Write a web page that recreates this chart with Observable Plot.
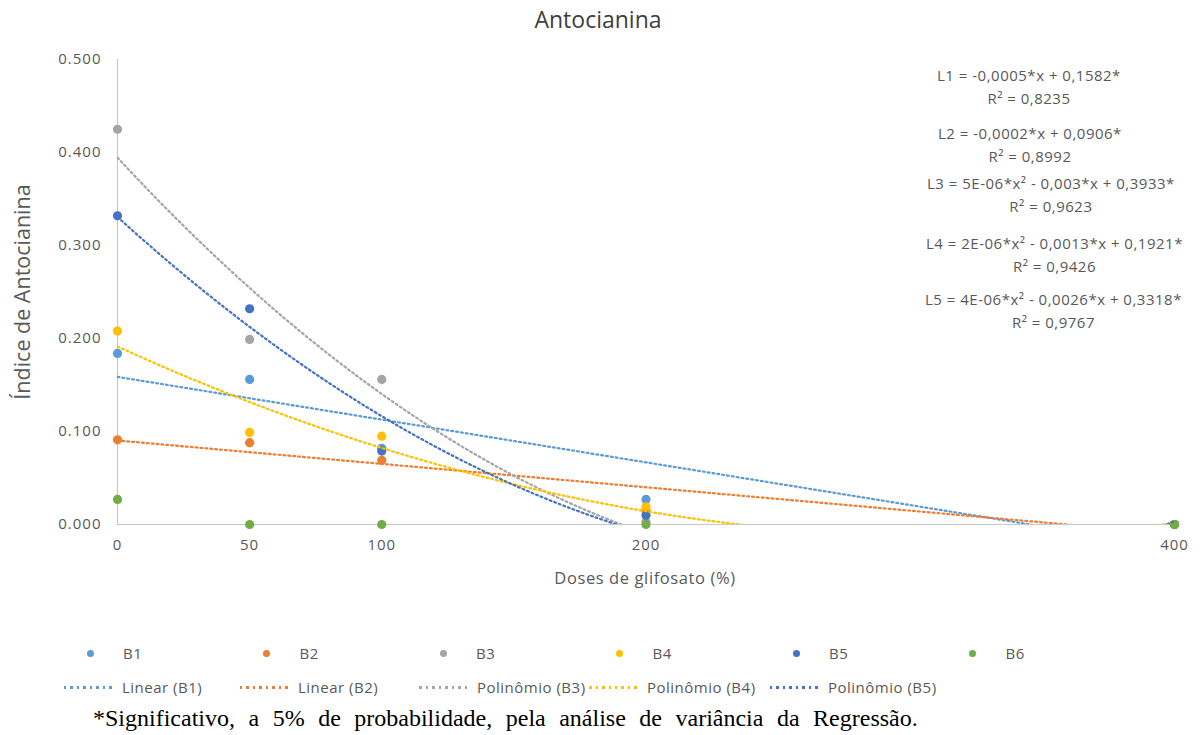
<!DOCTYPE html>
<html><head><meta charset="utf-8">
<script src="https://cdn.jsdelivr.net/npm/d3@7"></script>
<script src="https://cdn.jsdelivr.net/npm/@observablehq/plot@0.6"></script>
<style>
body{margin:0;background:#fff;}
#wrap{position:relative;width:1202px;height:735px;overflow:hidden;font-family:"Open Sans",sans-serif;color:#595959;background:#fff;}
#wrap svg{position:absolute;left:0;top:0;}
#wrap svg g[aria-label$="tick label"] text{letter-spacing:1px;}
.abs{position:absolute;white-space:nowrap;}
</style></head><body><div id="wrap"></div>
<script>
// ---- data ----
const doses = [0, 50, 100, 200, 400];
const seriesNames = ["B1", "B2", "B3", "B4", "B5", "B6"];
const B1 = [0.184, 0.156, 0.082, 0.027, 0.000];
const B2 = [0.091, 0.088, 0.069, 0.015, 0.000];
const B3 = [0.425, 0.199, 0.156, 0.003, 0.000];
const B4 = [0.208, 0.099, 0.095, 0.019, 0.000];
const B5 = [0.332, 0.232, 0.079, 0.010, 0.000];
const B6 = [0.027, 0.000, 0.000, 0.000, 0.000];
const seriesColors = ["#5B9BD5", "#ED7D31", "#A5A5A5", "#FFC000", "#4472C4", "#70AD47"];
const trendNames = ["Linear (B1)", "Linear (B2)", "Polinômio (B3)", "Polinômio (B4)", "Polinômio (B5)"];
const trendDegrees = [1, 1, 2, 2, 2];
const yTicks = [0, 0.1, 0.2, 0.3, 0.4, 0.5];
const equations = [
  ["L1 = -0,0005*x + 0,1582*", "R² = 0,8235"],
  ["L2 = -0,0002*x + 0,0906*", "R² = 0,8992"],
  ["L3 = 5E-06*x² - 0,003*x + 0,3933*", "R² = 0,9623"],
  ["L4 = 2E-06*x² - 0,0013*x + 0,1921*", "R² = 0,9426"],
  ["L5 = 4E-06*x² - 0,0026*x + 0,3318*", "R² = 0,9767"]
];
const chartTitle = "Antocianina";
const xTitle = "Doses de glifosato (%)";
const yTitle = "Índice de Antocianina";
const caption = "*Significativo, a 5% de probabilidade, pela análise de variância da Regressão.";

const allSeries = [B1, B2, B3, B4, B5, B6];

// ---- least-squares trend fit (Excel-style trendlines) ----
function polyfit(xs, ys, deg) {
  const n = deg + 1;
  const A = Array.from({length: n}, () => Array(n + 1).fill(0));
  for (let k = 0; k < xs.length; k++) {
    for (let i = 0; i < n; i++) {
      for (let j = 0; j < n; j++) A[i][j] += Math.pow(xs[k], i + j);
      A[i][n] += ys[k] * Math.pow(xs[k], i);
    }
  }
  for (let i = 0; i < n; i++) {
    let p = i;
    for (let r = i + 1; r < n; r++) if (Math.abs(A[r][i]) > Math.abs(A[p][i])) p = r;
    [A[i], A[p]] = [A[p], A[i]];
    for (let r = 0; r < n; r++) {
      if (r !== i) {
        const f = A[r][i] / A[i][i];
        for (let c = i; c <= n; c++) A[r][c] -= f * A[i][c];
      }
    }
  }
  return A.map((row, i) => row[n] / row[i]);
}

const points = allSeries.flatMap((vals, s) => vals.map((v, i) => ({s, x: doses[i], y: v})));
const xGrid = d3.range(0, 400.001, 1);
const trends = trendNames.map((name, s) => {
  const coef = polyfit(doses, allSeries[s], trendDegrees[s]);
  return xGrid.map(x => ({s, x, y: coef.reduce((acc, c, i) => acc + c * Math.pow(x, i), 0)}));
});

const wrap = document.getElementById("wrap");

const chart = Plot.plot({
  width: 1202, height: 600,
  marginLeft: 117, marginRight: 28, marginTop: 59, marginBottom: 76,
  style: {fontFamily: "Open Sans, sans-serif", fontSize: "15px", color: "#595959", background: "transparent"},
  x: {domain: [0, 400], ticks: doses, tickSize: 0, tickPadding: 15, tickFormat: d => String(d), label: null},
  y: {domain: [0, 0.5], ticks: yTicks, tickSize: 0, tickPadding: 16, tickFormat: d3.format(".3f"), label: null},
  marks: [
    Plot.ruleX([0], {stroke: "#c8c8c8", strokeWidth: 1.2}),
    Plot.ruleY([0], {stroke: "#c8c8c8", strokeWidth: 1.2}),
    ...allSeries.map((_, s) => Plot.dot(points.filter(d => d.s === s), {x: "x", y: "y", r: 4.6, fill: seriesColors[s], stroke: "none"})),
    ...trends.map((t, s) => Plot.line(t.filter(d => d.y >= -0.002), {x: "x", y: "y", stroke: seriesColors[s], strokeWidth: 2.2, strokeDasharray: "1.9,3", clip: true}))
  ]
});
wrap.appendChild(chart);

function addText(txt, css, parent = wrap) {
  const d = document.createElement("div");
  d.className = "abs";
  d.textContent = txt;
  Object.assign(d.style, css);
  parent.appendChild(d);
  return d;
}

// title
addText(chartTitle, {left: "0px", width: "1196px", top: "3px", textAlign: "center", fontSize: "23px", color: "#404040", lineHeight: "32px"});
// axis titles
addText(xTitle, {left: "445px", width: "400px", top: "566px", textAlign: "center", fontSize: "16.5px", letterSpacing: "0.6px", lineHeight: "24px"});
addText(yTitle, {left: "-178px", width: "400px", top: "279px", textAlign: "center", fontSize: "21.5px", lineHeight: "26px", transform: "rotate(-90deg)"});

// equations: each block centered on itself
const eqLefts = [937, 938, 927, 926, 925];
const eqTops = [64, 122, 172, 232, 288];
equations.forEach((pair, i) => {
  const block = document.createElement("div");
  block.className = "abs";
  Object.assign(block.style, {left: eqLefts[i] + "px", top: eqTops[i] + "px", textAlign: "center", fontSize: "15px", letterSpacing: "0.5px", lineHeight: "23px"});
  pair.forEach(t => { const l = document.createElement("div"); l.textContent = t; block.appendChild(l); });
  wrap.appendChild(block);
});

// legend row 1: markers
seriesNames.forEach((name, i) => {
  const cx = 90 + i * 176.5;
  const dot = document.createElement("div");
  dot.className = "abs";
  Object.assign(dot.style, {left: (cx - 3.5) + "px", top: (653 - 3.5) + "px", width: "7px", height: "7px", borderRadius: "50%", background: seriesColors[i]});
  wrap.appendChild(dot);
  addText(name, {left: (cx + 33) + "px", top: "642px", fontSize: "15px", letterSpacing: "0.5px", lineHeight: "22px"});
});
// legend row 2: trendlines
const lineStarts = [64, 240, 419, 589, 770];
trendNames.forEach((name, i) => {
  const x0 = lineStarts[i];
  const ln = document.createElement("div");
  ln.className = "abs";
  Object.assign(ln.style, {left: x0 + "px", top: "686px", width: "50px", height: "2.5px",
    background: `repeating-linear-gradient(90deg, ${seriesColors[i]} 0 2.5px, transparent 2.5px 6.5px)`});
  wrap.appendChild(ln);
  addText(name, {left: (x0 + 58) + "px", top: "676px", fontSize: "15px", letterSpacing: "0.5px", lineHeight: "22px"});
});

// caption
addText(caption, {left: "93px", top: "704px", fontFamily: "'Liberation Serif', serif", fontSize: "24px", wordSpacing: "7.5px", lineHeight: "28px", color: "#000"});
</script></body></html>
